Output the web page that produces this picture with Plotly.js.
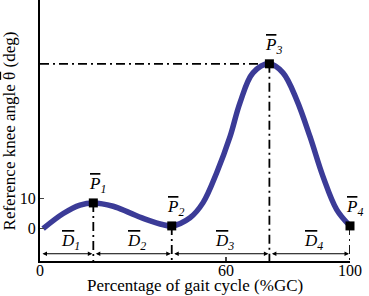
<!DOCTYPE html>
<html>
<head>
<meta charset="utf-8">
<script src="https://cdn.plot.ly/plotly-3.0.1.min.js"></script>
<style>
  html, body { margin: 0; padding: 0; background: #ffffff; }
  #chart { width: 369px; height: 296px; }
</style>
</head>
<body>
<div id="chart"></div>
<script>
// ---- data ----
const gaitPct    = [1, 7.5, 12.9, 17.2, 23.6, 29, 34.4, 39.8, 42.5, 48.4, 52.6, 57.0, 61.3, 64.5, 68.7, 74.0, 78.4, 82.8, 87.1, 91.3, 95.7, 100];
const kneeAngle  = [0, 5.0, 7.8, 8.5, 7.4, 5.2, 3.0, 1.3, 0.9, 3.6, 8.6, 18.5, 30.4, 41.6, 51.5, 54.5, 51.5, 42.6, 30.4, 17.2, 6.3, 0.9];

const keyPointPct   = [17.2, 42.5, 74.0, 100];
const keyPointAngle = [8.5, 0.9, 54.5, 0.9];
const keyPointNames = ["1", "2", "3", "4"];

const phaseStart  = [0, 17.2, 42.5, 74.0];
const phaseEnd    = [17.2, 42.5, 74.0, 100];
const phaseNames  = ["1", "2", "3", "4"];

const xTickVals = [0, 60, 100];
const yTickVals = [0, 10];

const xRange = [0, 100];
const yRange = [-10.7, 75.6];

const xTitle = "Percentage of gait cycle (%GC)";
const yTitle = 'Reference knee angle <span style="text-decoration:overline">\u03B8</span> (deg)';

// ---- styles ----
const serif = "Liberation Serif, Times New Roman, serif";
const curveColor = "#3b3b97";
const dashDot = "9px,4px,2px,4px";
const bar = (s) => '<span style="text-decoration:overline">' + s + '</span>';

const traces = [];

// dash-dot verticals from each key point to the axis
keyPointPct.forEach((x, i) => {
  traces.push({
    x: [x, x], y: [keyPointAngle[i], yRange[0]],
    mode: "lines", type: "scatter", hoverinfo: "skip", showlegend: false,
    line: { color: "#000", width: 1.8, dash: dashDot },
    cliponaxis: false
  });
});
// horizontal dash-dot from y axis to the peak
traces.push({
  x: [xRange[0], keyPointPct[2]], y: [keyPointAngle[2], keyPointAngle[2]],
  mode: "lines", type: "scatter", hoverinfo: "skip", showlegend: false,
  line: { color: "#000", width: 1.8, dash: dashDot }
});

// main curve
traces.push({
  x: gaitPct, y: kneeAngle,
  mode: "lines", type: "scatter", showlegend: false,
  line: { color: curveColor, width: 5.5, shape: "spline", smoothing: 1.0 }
});

// key points
traces.push({
  x: keyPointPct, y: keyPointAngle,
  mode: "markers", type: "scatter", showlegend: false,
  marker: { symbol: "square", size: 9, color: "#000" },
  cliponaxis: false
});

const annotations = [];
// key point labels
keyPointPct.forEach((x, i) => {
  annotations.push({
    x: x, y: keyPointAngle[i], xref: "x", yref: "y",
    text: "<i>" + bar("P") + "</i><sub><i>" + keyPointNames[i] + "</i></sub>",
    showarrow: false, yshift: 18, xshift: 4,
    font: { family: serif, size: 17, color: "#000" }
  });
});
// phase arrows and labels
phaseStart.forEach((s, i) => {
  const e = phaseEnd[i];
  annotations.push({
    x: e, y: -8.3, ax: s, ay: -8.3, xref: "x", yref: "y", axref: "x", ayref: "y",
    text: "", showarrow: true, arrowhead: 2, startarrowhead: 2, arrowside: "end+start",
    arrowsize: 0.9, startarrowsize: 0.9, arrowwidth: 1, arrowcolor: "#000",
    standoff: 1, startstandoff: 1
  });
  annotations.push({
    x: (s + e) / 2, y: -4.3, xref: "x", yref: "y",
    text: "<i>" + bar("D") + "</i><sub><i>" + phaseNames[i] + "</i></sub>",
    showarrow: false, xshift: 4,
    font: { family: serif, size: 17, color: "#000" }
  });
});
// axis titles
annotations.push({
  xref: "paper", yref: "paper", x: -0.097, y: 0.50, xanchor: "center", yanchor: "middle",
  text: yTitle, textangle: -90,
  showarrow: false, font: { family: serif, size: 17, color: "#000" }
});
annotations.push({
  xref: "paper", yref: "paper", x: 0.5, y: -0.092, xanchor: "center", yanchor: "middle",
  text: xTitle,
  showarrow: false, font: { family: serif, size: 17, color: "#000" }
});

const layout = {
  width: 369, height: 296,
  margin: { l: 40, r: 19, t: 0, b: 34.5 },
  paper_bgcolor: "#fff", plot_bgcolor: "#fff",
  xaxis: {
    range: xRange, tickvals: xTickVals, ticks: "inside", ticklen: 4, tickwidth: 1.5,
    ticklabelstandoff: -6,
    showline: true, linecolor: "#000", linewidth: 2, showgrid: false, zeroline: false,
    tickfont: { family: serif, size: 16, color: "#000" }, fixedrange: true
  },
  yaxis: {
    range: yRange, tickvals: yTickVals, ticks: "inside", ticklen: 4, tickwidth: 1.5,
    ticklabelstandoff: -1,
    showline: true, linecolor: "#000", linewidth: 2, showgrid: false, zeroline: false,
    tickfont: { family: serif, size: 16, color: "#000" }, fixedrange: true
  },
  annotations: annotations,
  showlegend: false
};

Plotly.newPlot("chart", traces, layout, { displayModeBar: false, staticPlot: true });
</script>
</body>
</html>
